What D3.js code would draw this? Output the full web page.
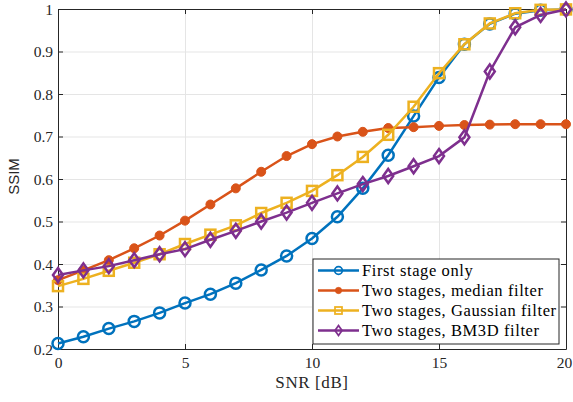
<!DOCTYPE html>
<html>
<head>
<meta charset="utf-8">
<script src="https://cdn.jsdelivr.net/npm/d3@7"></script>
<style>
  body { margin: 0; background: #fff; }
  svg { display: block; }
  .tick text { font-family: "Liberation Serif", serif; font-size: 15.5px; fill: #262626; }
  .grid line { stroke: #e5e5e5; stroke-width: 1; }
  .grid path { display: none; }
  .legend text { font-family: "Liberation Serif", serif; font-size: 16.5px; fill: #000; letter-spacing: 0.6px; }
</style>
</head>
<body>
<svg id="svg" width="573" height="402"></svg>
<script>
// valores
var snr = [0,1,2,3,4,5,6,7,8,9,10,11,12,13,14,15,16,17,18,19,20];
var firstStage = [0.213,0.229,0.248,0.265,0.285,0.308,0.329,0.355,0.386,0.419,0.460,0.511,0.578,0.656,0.748,0.839,0.917,0.965,0.989,0.997,0.999];
var medianFilter = [0.362,0.385,0.409,0.437,0.467,0.502,0.540,0.578,0.617,0.654,0.682,0.700,0.711,0.720,0.722,0.725,0.727,0.728,0.729,0.729,0.729];
var gaussianFilter = [0.348,0.365,0.384,0.403,0.423,0.447,0.469,0.491,0.520,0.544,0.572,0.609,0.652,0.704,0.770,0.849,0.917,0.966,0.990,0.998,0.999];
var bm3dFilter = [0.374,0.385,0.395,0.409,0.423,0.435,0.457,0.478,0.500,0.521,0.544,0.566,0.588,0.607,0.630,0.654,0.698,0.853,0.957,0.986,0.999];
var seriesNames = ['First stage only', 'Two stages, median filter', 'Two stages, Gaussian filter', 'Two stages, BM3D filter'];
var xTicks = [0, 5, 10, 15, 20];
var yTicks = [0.2, 0.3, 0.4, 0.5, 0.6, 0.7, 0.8, 0.9, 1];

var colores = ['#0072BD', '#D95319', '#EDB120', '#7E2F8E'];
var marcadores = ['circle', 'dot', 'square', 'diamond'];
var datos = [firstStage, medianFilter, gaussianFilter, bm3dFilter];

var svg = d3.select('svg');
var margenIzq = 58, margenSup = 9, width = 508, height = 340;

var chart = svg.append('g')
  .attr('transform', `translate(${margenIzq}, ${margenSup})`);

var xScale = d3.scaleLinear().domain([0, 20]).range([0, width]);
var yScale = d3.scaleLinear().domain([0.2, 1]).range([height, 0]);

// rejilla
chart.append('g')
  .attr('class', 'grid')
  .attr('transform', `translate(0, ${height})`)
  .call(d3.axisBottom(xScale).tickValues(xTicks).tickSize(-height).tickFormat(''));
chart.append('g')
  .attr('class', 'grid')
  .call(d3.axisLeft(yScale).tickValues(yTicks).tickSize(-width).tickFormat(''));

// caja y ticks hacia dentro
var fmtY = (d) => d === 1 ? '1' : d3.format('.1f')(d);
var ejeColor = '#262626';

var xAxis = chart.append('g')
  .attr('transform', `translate(0, ${height})`)
  .call(d3.axisBottom(xScale).tickValues(xTicks).tickSizeInner(-5).tickSizeOuter(0).tickPadding(7));
var yAxis = chart.append('g')
  .call(d3.axisLeft(yScale).tickValues(yTicks).tickFormat(fmtY).tickSizeInner(-5).tickSizeOuter(0).tickPadding(5));
var xTop = chart.append('g')
  .call(d3.axisTop(xScale).tickValues(xTicks).tickSizeInner(-5).tickSizeOuter(0).tickFormat(''));
var yRight = chart.append('g')
  .attr('transform', `translate(${width}, 0)`)
  .call(d3.axisRight(yScale).tickValues(yTicks).tickSizeInner(-5).tickSizeOuter(0).tickFormat(''));

[xAxis, yAxis, xTop, yRight].forEach(function (a) {
  a.selectAll('path').attr('stroke', ejeColor).attr('stroke-width', 1);
  a.selectAll('line').attr('stroke', ejeColor).attr('stroke-width', 1);
});
xAxis.selectAll('text').attr('dy', '0.8em')
  .attr('dx', (d) => d === 20 ? -2 : 0);
yAxis.selectAll('text').attr('dy', '0.35em');

// lineas
var linea = d3.line()
  .x((d, i) => xScale(snr[i]))
  .y((d) => yScale(d));

function dibujarMarcador(g, tipo, color, x, y) {
  if (tipo === 'circle') {
    g.append('circle').attr('cx', x).attr('cy', y).attr('r', 5.5)
      .attr('fill', 'none').attr('stroke', color).attr('stroke-width', 2.5);
  } else if (tipo === 'dot') {
    g.append('circle').attr('cx', x).attr('cy', y).attr('r', 4.5)
      .attr('fill', color).attr('stroke', color).attr('stroke-width', 1);
  } else if (tipo === 'square') {
    g.append('rect').attr('x', x - 5).attr('y', y - 5).attr('width', 10).attr('height', 10)
      .attr('fill', 'none').attr('stroke', color).attr('stroke-width', 2.5);
  } else {
    g.append('path').attr('d', `M${x},${y - 7}L${x + 5},${y}L${x},${y + 7}L${x - 5},${y}Z`)
      .attr('fill', 'none').attr('stroke', color).attr('stroke-width', 2.5);
  }
}

datos.forEach(function (serie, k) {
  var g = chart.append('g');
  g.append('path')
    .datum(serie)
    .attr('d', linea)
    .attr('fill', 'none')
    .attr('stroke', colores[k])
    .attr('stroke-width', 2.5);
  serie.forEach(function (v, i) {
    dibujarMarcador(g, marcadores[k], colores[k], xScale(snr[i]), yScale(v));
  });
});

// leyenda
var leyenda = svg.append('g').attr('class', 'legend');
leyenda.append('rect')
  .attr('x', 313).attr('y', 259).attr('width', 246).attr('height', 85)
  .attr('fill', '#fff').attr('stroke', ejeColor).attr('stroke-width', 1);
seriesNames.forEach(function (nombre, k) {
  var y = 270.5 + k * 20;
  leyenda.append('line')
    .attr('x1', 318).attr('x2', 359).attr('y1', y).attr('y2', y)
    .attr('stroke', colores[k]).attr('stroke-width', 2.5);
  var gm = leyenda.append('g').attr('transform', `translate(338.5, ${y}) scale(0.7)`);
  dibujarMarcador(gm, marcadores[k], colores[k], 0, 0);
  leyenda.append('text')
    .attr('x', 362).attr('y', y).attr('dy', '0.35em')
    .text(nombre);
});

// etiquetas
svg.append('text')
  .attr('x', margenIzq + width / 2)
  .attr('y', 388)
  .attr('text-anchor', 'middle')
  .style('font-family', '"Liberation Serif", serif')
  .style('font-size', '17px')
  .style('letter-spacing', '0.6px')
  .attr('fill', '#262626')
  .text('SNR [dB]');

svg.append('text')
  .attr('transform', 'translate(19, 176.5) rotate(-90)')
  .attr('text-anchor', 'middle')
  .style('font-family', '"Liberation Sans", sans-serif')
  .style('font-size', '15px')
  .attr('fill', '#262626')
  .text('SSIM');
</script>
</body>
</html>
